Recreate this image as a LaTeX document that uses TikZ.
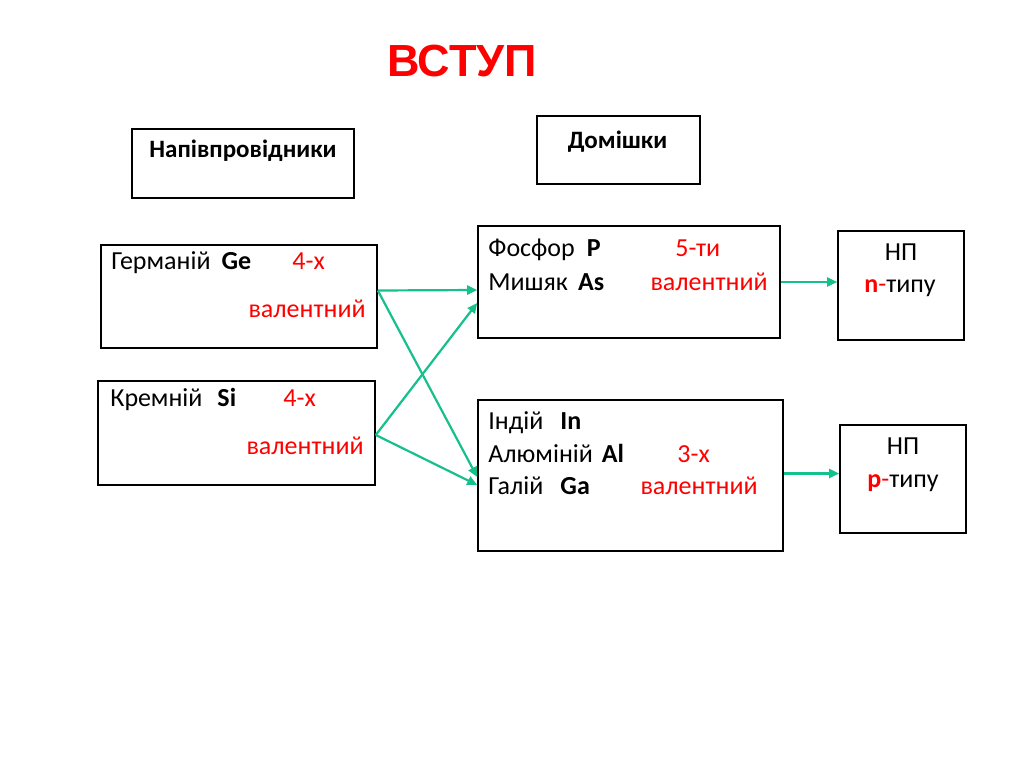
\documentclass[tikz,border=0pt]{standalone}
\usepackage{fontspec}
\setmainfont{Carlito}
\newfontfamily\titlefont{Liberation Sans}
\usetikzlibrary{arrows.meta, positioning, calc}
\definecolor{linkgreen}{RGB}{20,192,140}
\definecolor{valred}{RGB}{255,0,0}
\tikzset{
  box/.style={draw=black, line width=1.6pt, inner sep=0pt},
  txt/.style={anchor=base west, inner sep=0pt, font=\fontsize{26}{30}\selectfont},
  val/.style={txt, text=valred},
  head/.style={anchor=base, inner sep=0pt, font=\bfseries\fontsize{25}{29}\selectfont},
  link/.style={draw=linkgreen, line width=2.2pt, -{Triangle[length=10pt,width=9pt]}},
}

\begin{document}
\begin{tikzpicture}[x=1pt,y=-1pt]
\useasboundingbox (0,0) rectangle (1024,767);

\node[anchor=base, inner sep=0pt, text=valred, font=\titlefont\bfseries\fontsize{45}{50}\selectfont] (title) at (462,77) {ВСТУП};

% headings
\node[box, minimum width=222pt, minimum height=69pt] (semi) at (243,163.5) {};
\node[head] (semilbl) at ($(semi.north)+(0,29)$) {Напівпровідники};
\node[box, minimum width=163pt, minimum height=68pt] (dom) at (618.5,150) {};
\node[head] (domlbl) at ($(dom.north)+(-1,33)$) {Домішки};

% semiconductors
\node[box, minimum width=276pt, minimum height=103pt] (ge) at (239,296.5) {};
\node[txt] (gename) at ($(ge.north west)+(11,25)$) {Германій\hspace{11pt}\textbf{Ge}};
\node[val] (geval) at ($(ge.north west)+(192,25)$) {4-х};
\node[val, anchor=base east] (gevalb) at ($(ge.north east)+(-12,73)$) {валентний};

\node[box, minimum width=277pt, minimum height=104pt] (si) at (236.5,433) {};
\node[txt] (siname) at ($(si.north west)+(13,26)$) {Кремній\hspace{15pt}\textbf{Si}};
\node[val] (sival) at ($(si.north west)+(186,26)$) {4-х};
\node[val, anchor=base east] (sivalb) at ($(si.north east)+(-12,74)$) {валентний};

% impurities
\node[box, minimum width=302pt, minimum height=112pt] (fos) at (629,282) {};
\node[txt] (fosname) at ($(fos.north west)+(11,31)$) {Фосфор\hspace{12pt}\textbf{P}};
\node[val] (fosval) at ($(fos.north west)+(198,31)$) {5-ти};
\node[txt] (asname) at ($(fos.north west)+(11,65)$) {Мишяк\hspace{10pt}\textbf{As}};
\node[val, anchor=base east] (fosvalb) at ($(fos.north east)+(-13,65)$) {валентний};

\node[box, minimum width=305pt, minimum height=151pt] (ind) at (630.5,475.5) {};
\node[txt] (inname) at ($(ind.north west)+(11,30)$) {Індій\hspace{17pt}\textbf{In}};
\node[txt] (alname) at ($(ind.north west)+(11,63)$) {Алюміній\hspace{9pt}\textbf{Al}};
\node[val] (indval) at ($(ind.north west)+(200,63)$) {3-х};
\node[txt] (ganame) at ($(ind.north west)+(11,95)$) {Галій\hspace{17pt}\textbf{Ga}};
\node[val, anchor=base east] (indvalb) at ($(ind.north east)+(-26,95)$) {валентний};

% results
\node[box, minimum width=126pt, minimum height=109pt] (npn) at (901,285.5) {};
\node[txt, anchor=base] (npnlbl) at ($(npn.north)+(0,30)$) {НП};
\node[txt, anchor=base] (npntype) at ($(npn.north)+(-1,62)$) {\textcolor{valred}{\textbf{n}-}типу};
\node[box, minimum width=126pt, minimum height=108pt] (npp) at (903,479) {};
\node[txt, anchor=base] (npplbl) at ($(npp.north)+(0,30)$) {НП};
\node[txt, anchor=base] (npptype) at ($(npp.north)+(0,63)$) {\textcolor{valred}{\textbf{p}-}типу};

% connectors
\draw[link] ([yshift=6pt]ge.east) -- ([yshift=-8pt]fos.west);
\draw[link] ([yshift=6pt]ge.east) -- ([yshift=-1.5pt]ind.west);
\draw[link] ([yshift=-2pt]si.east) -- ([yshift=-21pt]fos.west);
\draw[link] ([yshift=-2pt]si.east) -- ([yshift=-9.5pt]ind.west);
\draw[link] (fos.east) -- (fos.east -| npn.west);
\draw[link] ([yshift=2pt]ind.east) -- ([yshift=2pt]ind.east -| npp.west);
\end{tikzpicture}
\end{document}
